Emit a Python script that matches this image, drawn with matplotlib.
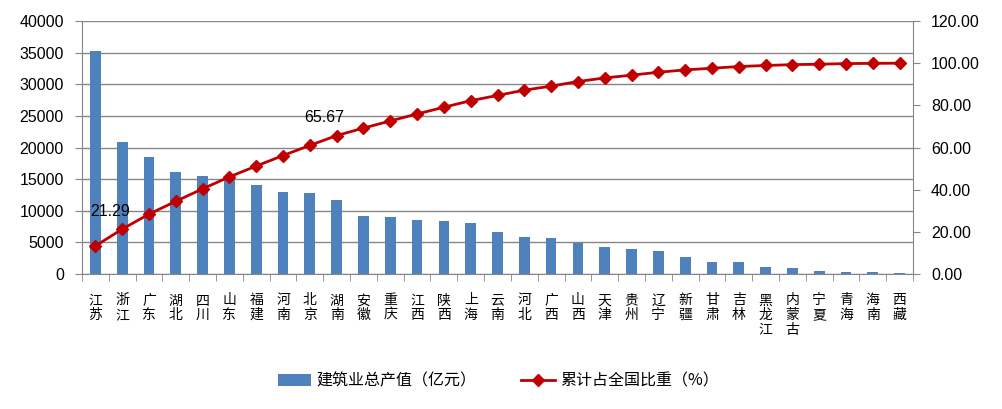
import numpy as np
import matplotlib
matplotlib.use('Agg')
import matplotlib.pyplot as plt
from matplotlib.ticker import FuncFormatter, FixedLocator

plt.rcParams['font.family'] = ['Liberation Sans', 'Noto Sans CJK SC', 'DejaVu Sans']

provinces = ['江苏', '浙江', '广东', '湖北', '四川', '山东', '福建', '河南', '北京', '湖南',
             '安徽', '重庆', '江西', '陕西', '上海', '云南', '河北', '广西', '山西', '天津',
             '贵州', '辽宁', '新疆', '甘肃', '吉林', '黑龙江', '内蒙古', '宁夏', '青海', '海南', '西藏']
output = [35200, 20800, 18450, 16130, 15490, 14860, 14020, 12960, 12750, 11700,
          9170, 8960, 8540, 8330, 8110, 6640, 5800, 5750, 4950, 4320,
          3900, 3690, 2630, 1950, 1930, 1110, 950, 470, 320, 320, 100]
cum_share = [13.3, 21.29, 28.4, 34.5, 40.4, 46.1, 51.2, 56.2, 61.0, 65.67,
             69.2, 72.6, 75.9, 79.1, 82.2, 84.7, 87.2, 89.1, 91.3, 93.0,
             94.3, 95.7, 96.8, 97.6, 98.4, 98.9, 99.3, 99.5, 99.8, 99.9, 100.0]
labelled = [1, 9]

bar_color = '#4F81BD'
line_color = '#C00000'
axis_gray = '#868686'

fig = plt.figure(figsize=(10.03, 4.09), dpi=100)
ax = fig.add_axes([82 / 1003, 1 - 274 / 409, (913 - 82) / 1003, (274 - 21) / 409])
ax2 = ax.twinx()

x = np.arange(len(provinces))
ax.bar(x, output, width=0.4, color=bar_color, zorder=2, label='建筑业总产值（亿元）')
ax2.plot(x, cum_share, color=line_color, lw=2, marker='D', markersize=6,
         zorder=3, label='累计占全国比重（%）')

for i in labelled:
    ax2.annotate(f'{cum_share[i]:.2f}', xy=(x[i], cum_share[i]), xytext=(-9, 13),
                 textcoords='offset points', ha='center', va='center',
                 fontsize=11.5, color='black')

ax.set_xlim(-0.5, len(provinces) - 0.5)
ax.set_ylim(0, 40000)
ax.set_yticks(np.arange(0, 40001, 5000))
ax2.set_ylim(0, 120)
ax2.set_yticks(np.arange(0, 121, 20))
ax2.yaxis.set_major_formatter(FuncFormatter(lambda v, p: f'{v:.2f}'))

ax.grid(axis='y', color=axis_gray, lw=1, zorder=0)
ax.set_axisbelow(True)

for a in (ax, ax2):
    a.spines['top'].set_visible(False)
    for s in ('left', 'right', 'bottom'):
        a.spines[s].set_color(axis_gray)
ax.spines['right'].set_visible(False)
ax2.spines['left'].set_visible(False)
ax2.spines['bottom'].set_visible(False)

ax.tick_params(axis='y', length=5, color=axis_gray, labelsize=11.5, pad=8)
ax2.tick_params(axis='y', length=5, color=axis_gray, labelsize=11.5, pad=8)

ax.set_xticks(x)
ax.set_xticklabels(['\n'.join(p) for p in provinces], fontsize=10,
                   family=['Noto Sans CJK SC', 'DejaVu Sans'], linespacing=1.05)
ax.tick_params(axis='x', which='major', length=0, pad=14)
ax.xaxis.set_minor_locator(FixedLocator(np.arange(-0.5, len(provinces), 1.0)))
ax.tick_params(axis='x', which='minor', length=5, color=axis_gray)

h1, l1 = ax.get_legend_handles_labels()
h2, l2 = ax2.get_legend_handles_labels()
fig.legend(h1 + h2, l1 + l2, loc='center', bbox_to_anchor=(0.497, 1 - 381 / 409),
           ncol=2, frameon=False, columnspacing=2.8, handlelength=2.1, handletextpad=0.35,
           prop={'family': ['Noto Sans CJK SC', 'DejaVu Sans'], 'size': 11.5})

fig.savefig('out.png', dpi=100)
